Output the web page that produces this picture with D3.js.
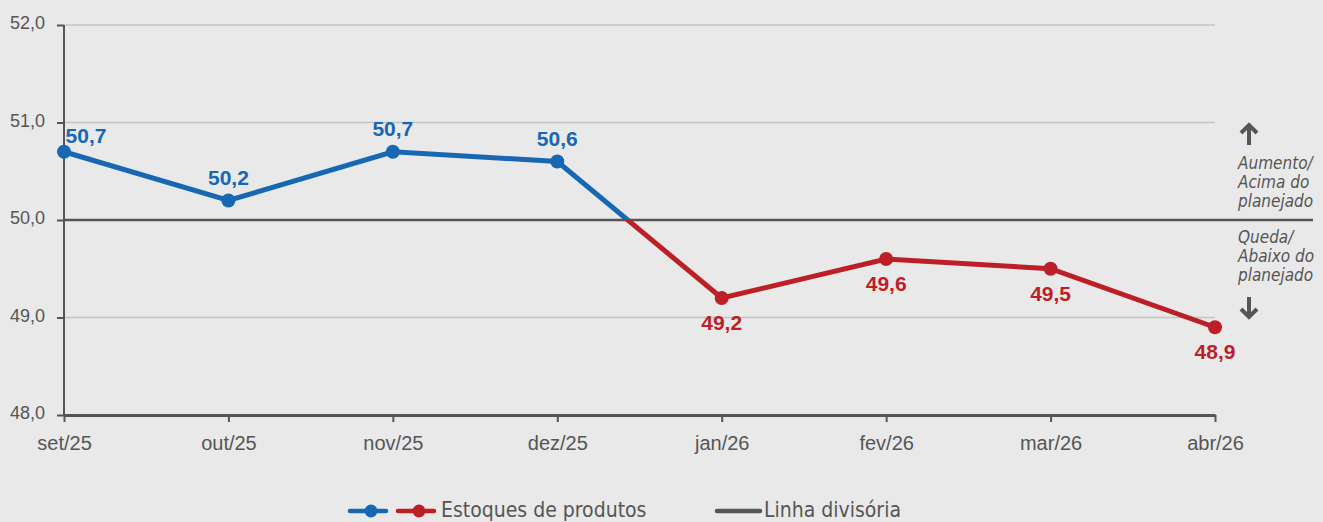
<!DOCTYPE html>
<html>
<head>
<meta charset="utf-8">
<script src="https://cdn.jsdelivr.net/npm/d3@7"></script>
<style>
  body { margin: 0; background: #e9e9e9; }
  svg { display: block; font-family: "Liberation Sans Narrow", "DejaVu Sans Condensed", sans-serif; }
</style>
</head>
<body>
<div id="chart"></div>
<script>
// data
var months = ["set/25", "out/25", "nov/25", "dez/25", "jan/26", "fev/26", "mar/26", "abr/26"];
var estoques = [50.7, 50.2, 50.7, 50.6, 49.2, 49.6, 49.5, 48.9];
var yTicks = [48, 49, 50, 51, 52];
var divisoria = 50;

var width = 1323, height = 522;
var blue = "#1767b3", red = "#bd1f27", grey = "#555";

var svg = d3.select("#chart").append("svg")
  .attr("width", width)
  .attr("height", height);

var x = d3.scalePoint().domain(months).range([64, 1215]);
var y = d3.scaleLinear().domain([48, 52]).range([415, 25]);
var fmt = function(v) { return d3.format(".1f")(v).replace(".", ","); };

// gridlines
svg.append("g").selectAll("line")
  .data(yTicks.filter(function(d) { return d != 48 && d != divisoria; }))
  .enter().append("line")
  .attr("x1", 64).attr("x2", 1215)
  .attr("y1", function(d) { return y(d); })
  .attr("y2", function(d) { return y(d); })
  .style("stroke", "#c4c4c4").style("stroke-width", 1.5);

// y axis
var yAxis = svg.append("g")
  .attr("transform", "translate(64,0)")
  .call(d3.axisLeft(y).tickValues(yTicks).tickSize(7).tickPadding(12).tickFormat(fmt));
yAxis.select(".domain").style("stroke", grey).style("stroke-width", 2).attr("d", "M0," + y(52) + "V" + y(48));
yAxis.selectAll(".tick line").style("stroke", grey).style("stroke-width", 2);
yAxis.selectAll("text").style("font-size", "18px").style("fill", grey).attr("dy", "0.2em");

// x axis
var xAxis = svg.append("g")
  .attr("transform", "translate(0," + y(48) + ")")
  .call(d3.axisBottom(x).tickSize(7).tickPadding(14).tickSizeOuter(0));
xAxis.select(".domain").style("stroke", grey).style("stroke-width", 3);
xAxis.selectAll(".tick line").style("stroke", grey).style("stroke-width", 2);
xAxis.selectAll("text").style("font-size", "20px").style("fill", grey);

// divisoria
svg.append("line")
  .attr("x1", 64).attr("x2", 1313)
  .attr("y1", y(divisoria)).attr("y2", y(divisoria))
  .style("stroke", grey).style("stroke-width", 2.5);

// clip above / below 50
var defs = svg.append("defs");
defs.append("clipPath").attr("id", "above").append("rect")
  .attr("x", 0).attr("y", 0).attr("width", width).attr("height", y(divisoria));
defs.append("clipPath").attr("id", "below").append("rect")
  .attr("x", 0).attr("y", y(divisoria)).attr("width", width).attr("height", height);

var line = d3.line()
  .x(function(d, i) { return x(months[i]); })
  .y(function(d) { return y(d); });

svg.append("path").datum(estoques)
  .attr("d", line).attr("clip-path", "url(#above)")
  .style("fill", "none").style("stroke", blue).style("stroke-width", 5);
svg.append("path").datum(estoques)
  .attr("d", line).attr("clip-path", "url(#below)")
  .style("fill", "none").style("stroke", red).style("stroke-width", 5);

svg.append("g").selectAll("circle")
  .data(estoques).enter().append("circle")
  .attr("cx", function(d, i) { return x(months[i]); })
  .attr("cy", function(d) { return y(d); })
  .attr("r", 7)
  .style("fill", function(d) { return d >= divisoria ? blue : red; });

svg.append("g").selectAll("text")
  .data(estoques).enter().append("text")
  .attr("x", function(d, i) { return x(months[i]) + (i == 0 ? 22 : 0); })
  .attr("y", function(d, i) {
    if (i == 0) return y(d) - 9;
    return d >= divisoria ? y(d) - 16 : y(d) + 32;
  })
  .attr("text-anchor", "middle")
  .style("font-family", "'Liberation Sans', Arial, sans-serif")
  .style("font-size", "21px").style("font-weight", "bold")
  .style("fill", function(d) { return d >= divisoria ? blue : red; })
  .text(fmt);

// annotations on the right
var ann = svg.append("g").style("font-style", "italic").style("font-size", "17px").style("fill", grey);
[["Aumento/", 169], ["Acima do", 188], ["planejado", 207], ["Queda/", 243], ["Abaixo do", 262], ["planejado", 281]]
  .forEach(function(t) {
    ann.append("text").attr("x", 1238).attr("y", t[1]).text(t[0]);
  });
function arrow(cx, cy, dir) {
  svg.append("path")
    .attr("d", "M" + cx + "," + (cy - 10 * dir) + "V" + (cy + 10 * dir) +
      "M" + (cx - 8) + "," + (cy - 2 * dir) + "L" + cx + "," + (cy - 10 * dir) + "L" + (cx + 8) + "," + (cy - 2 * dir))
    .style("fill", "none").style("stroke", grey).style("stroke-width", 4);
}
arrow(1249, 135, 1);
arrow(1249, 307, -1);

// legend
var lg = svg.append("g").attr("transform", "translate(0,511)");
[[350, blue], [398, red]].forEach(function(m) {
  lg.append("line").attr("x1", m[0]).attr("x2", m[0] + 36).attr("y1", 0).attr("y2", 0)
    .style("stroke", m[1]).style("stroke-width", 4.5).style("stroke-linecap", "round");
  lg.append("circle").attr("cx", m[0] + 21).attr("cy", 0).attr("r", 6.5).style("fill", m[1]);
});
lg.append("text").attr("x", 441).attr("y", 6).style("font-size", "21px").style("fill", grey).text("Estoques de produtos");
lg.append("line").attr("x1", 717).attr("x2", 760).attr("y1", 0).attr("y2", 0)
  .style("stroke", grey).style("stroke-width", 4.5).style("stroke-linecap", "round");
lg.append("text").attr("x", 764).attr("y", 6).style("font-size", "21px").style("fill", grey).text("Linha divisória");
</script>
</body>
</html>
